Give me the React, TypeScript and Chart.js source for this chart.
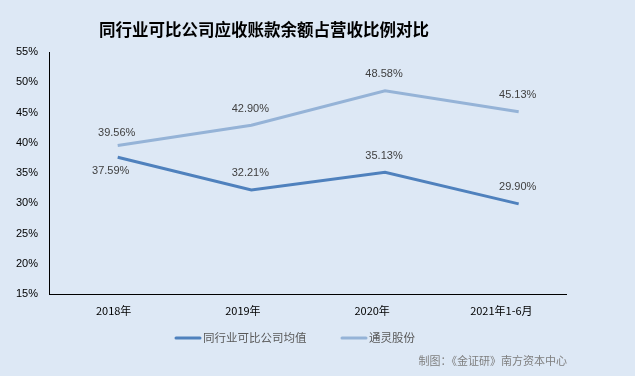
import React, { useEffect, useRef } from "react";
import { Chart, registerables } from "chart.js";

Chart.register(...registerables);

const categories = ["2018年", "2019年", "2020年", "2021年1-6月"];
const peerAvg = [37.59, 32.21, 35.13, 29.9];
const tongling = [39.56, 42.9, 48.58, 45.13];
const seriesNames = ["同行业可比公司均值", "通灵股份"];
const yTicks = [15, 20, 25, 30, 35, 40, 45, 50, 55];
const titleText = "同行业可比公司应收账款余额占营收比例对比";
const sourceText = "制图：《金证研》南方资本中心";

const DARK = "#4f81bd";
const LIGHT = "#95b3d7";
const BG = "#dde8f5";
const CJK = '"Noto Sans CJK SC", "Liberation Sans", sans-serif';
const LAT = '"Liberation Sans", "Noto Sans CJK SC", sans-serif';

const labelPos: Record<string, ("above" | "below")[]> = {
  "0": ["below", "above", "above", "above"],
  "1": ["above", "above", "above", "above"],
};

const overlay = {
  id: "overlay",
  afterDatasetsDraw(chart: any) {
    const ctx = chart.ctx;
    ctx.save();
    // data labels
    chart.data.datasets.forEach((ds: any, di: number) => {
      const meta = chart.getDatasetMeta(di);
      meta.data.forEach((pt: any, i: number) => {
        const v = ds.data[i].y as number;
        const pos = labelPos[String(di)][i];
        const dx = pos === "below" ? -7 : -1;
        const dy = pos === "below" ? 14 : di === 1 && i === 0 ? -12 : -16.5;
        ctx.font = `11px ${LAT}`;
        ctx.fillStyle = "#404040";
        ctx.textAlign = "center";
        ctx.textBaseline = "middle";
        ctx.fillText(v.toFixed(2) + "%", pt.x + dx, pt.y + dy);
      });
    });
    // title
    ctx.font = `bold 16.5px ${CJK}`;
    ctx.fillStyle = "#000";
    ctx.textAlign = "center";
    ctx.textBaseline = "middle";
    ctx.fillText(titleText, 264, 30);
    // legend
    const legendX = [176, 342];
    const colors = [DARK, LIGHT];
    seriesNames.forEach((n, i) => {
      ctx.strokeStyle = colors[i];
      ctx.lineWidth = 3;
      ctx.lineCap = "round";
      ctx.beginPath();
      ctx.moveTo(legendX[i], 338);
      ctx.lineTo(legendX[i] + 24, 338);
      ctx.stroke();
      ctx.font = `11.5px ${CJK}`;
      ctx.fillStyle = "#595959";
      ctx.textAlign = "left";
      ctx.textBaseline = "middle";
      ctx.fillText(n, legendX[i] + 27, 338);
    });
    // source
    ctx.font = `11px ${CJK}`;
    ctx.fillStyle = "#7f7f7f";
    ctx.textAlign = "right";
    ctx.fillText(sourceText, 567, 361);
    ctx.restore();
  },
};

export default function App() {
  const ref = useRef<HTMLCanvasElement>(null);
  useEffect(() => {
    document.body.style.margin = "0";
    const chart = new Chart(ref.current!, {
      type: "line",
      data: {
        labels: categories,
        datasets: [
          {
            label: seriesNames[0],
            data: peerAvg.map((y, i) => ({ x: i, y })),
            borderColor: DARK,
            backgroundColor: DARK,
            borderWidth: 3,
            pointRadius: 0,
            xAxisID: "xl",
          },
          {
            label: seriesNames[1],
            data: tongling.map((y, i) => ({ x: i, y })),
            borderColor: LIGHT,
            backgroundColor: LIGHT,
            borderWidth: 3,
            pointRadius: 0,
            xAxisID: "xl",
          },
        ],
      },
      options: {
        animation: false,
        responsive: false,
        events: [],
        layout: { padding: { top: 52, right: 69, left: 0, bottom: 0 } },
        plugins: { legend: { display: false }, tooltip: { enabled: false }, title: { display: false } },
        scales: {
          x: {
            type: "category",
            offset: true,
            grid: { display: false, drawTicks: false },
            border: { display: true, color: "#000", width: 1 },
            ticks: { color: "#000", font: { family: CJK, size: 11 }, padding: 10, maxRotation: 0 },
            afterFit: (s: any) => { s.height = 82; },
          },
          xl: {
            type: "linear",
            display: false,
            min: -0.514,
            max: 3.354,
          },
          y: {
            min: 15,
            max: 55,
            grid: { display: false, drawTicks: false },
            border: { display: true, color: "#000", width: 1 },
            afterBuildTicks: (s: any) => { s.ticks = yTicks.map((v) => ({ value: v })); },
            ticks: {
              color: "#000",
              font: { family: LAT, size: 11 },
              padding: 11,
              callback: (v: any) => v + "%",
            },
            afterFit: (s: any) => { s.width = 49; },
          },
        },
      } as any,
      plugins: [overlay],
    });
    return () => chart.destroy();
  }, []);
  return (
    <div style={{ width: 635, height: 376, background: BG }}>
      <canvas ref={ref} width={635} height={376} style={{ display: "block" }} />
    </div>
  );
}
